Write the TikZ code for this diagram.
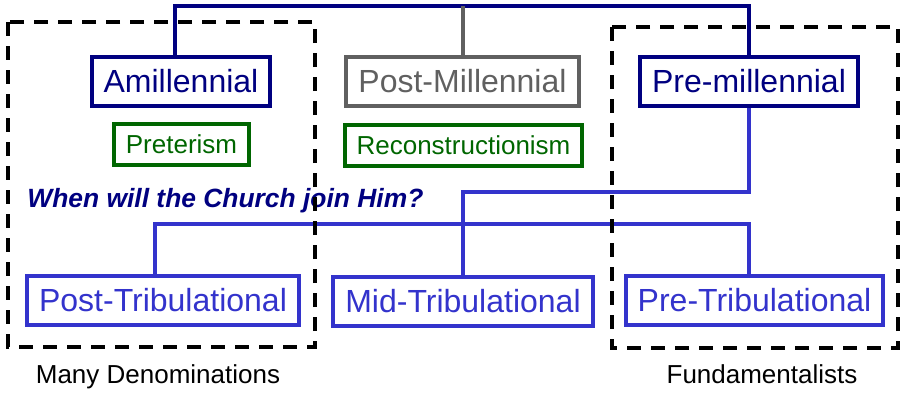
\documentclass[tikz,border=0pt]{standalone}
\usepackage{fontspec}
\setmainfont{Liberation Sans}
\usepackage{tikz}

\definecolor{navy}{RGB}{0,0,128}
\definecolor{greyish}{RGB}{96,96,96}
\definecolor{darkgreen}{RGB}{0,102,0}
\definecolor{tribblue}{RGB}{51,51,204}

\begin{document}
\begin{tikzpicture}
        [x=0.5pt,y=-0.5pt,
        view/.style = {draw,line width=2pt,
        inner xsep=6pt,inner ysep=0pt,
        minimum height=24.5pt,
        font=\fontsize{16}{19}\selectfont},
        school/.style = {draw,line width=2pt,
        inner xsep=6pt,inner ysep=0pt,
        minimum height=20.5pt,
        text=darkgreen,color=darkgreen,
        font=\fontsize{13}{16}\selectfont},
        link/.style = {line width=2pt},
        groupbox/.style = {line width=2pt,
        dash pattern=on 7pt off 5pt}]

        \useasboundingbox (0,0) rectangle (901,392);

        % Millennial views
        \node[view,navy] (ami) at (181,81.5) {Amillennial};
        \node[view,greyish] (postmil) at (462.5,81.5) {Post-Millennial};
        \node[view,navy] (premil) at (749,81.5) {Pre-millennial};

        % Schools
        \node[school] (preter) at (181.5,144.5) {Preterism};
        \node[school] (recon) at (463.5,145) {Reconstructionism};

        % Question
        \node[anchor=base west,inner sep=0pt,text=navy,
        font=\fontsize{13.2}{16}\selectfont\bfseries\itshape] (quest) at (27,207)
        {When will the Church join Him?};

        % Rapture views
        \node[view,tribblue] (posttrib) at (163,300) {Post-Tribulational};
        \node[view,tribblue] (midtrib) at (463,301) {Mid-Tribulational};
        \node[view,tribblue] (pretrib) at (754.5,300) {Pre-Tribulational};

        % Connectors
        \coordinate (topbar) at (462,6);
        \coordinate (split) at (600,192);
        \coordinate (bar2) at (462,224);
        \draw[link,navy] ([xshift=-3pt]ami.north) |- (topbar) -| (premil.north);
        \draw[link,greyish] (postmil.north) -- (postmil.north |- topbar);
        \draw[link,tribblue] (premil.south) |- (split) -| (midtrib.north);
        \draw[link,tribblue] ([xshift=-4pt]posttrib.north) |- (bar2) -| ([xshift=-3pt]pretrib.north);

        % Groups
        \draw[groupbox] (8,22) rectangle (315,347);
        \draw[groupbox] (612,27) rectangle (898,348);
        \node[anchor=base,inner sep=0pt,font=\fontsize{13}{16}\selectfont] (many) at (158,383) {Many Denominations};
        \node[anchor=base,inner sep=0pt,font=\fontsize{13}{16}\selectfont] (fund) at (762,383) {Fundamentalists};
    \end{tikzpicture}
\end{document}
